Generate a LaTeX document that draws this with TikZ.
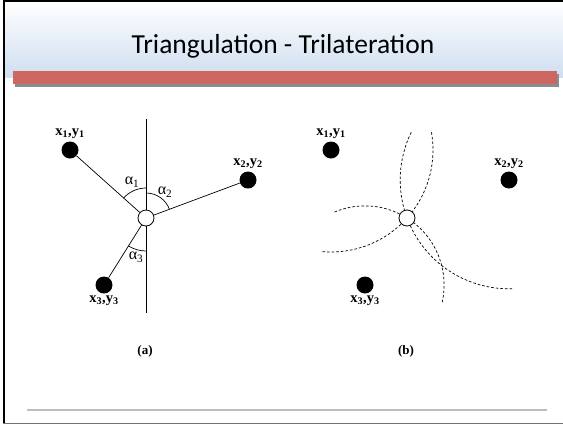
\documentclass[tikz,border=0pt]{standalone}
\usepackage{fontspec}
\setmainfont{Liberation Serif}
\newfontfamily\titlefont{Carlito}
\usetikzlibrary{calc,positioning}
\definecolor{headblue}{RGB}{207,222,240}
\definecolor{barred}{RGB}{205,102,96}
\definecolor{footgray}{RGB}{190,190,190}
\begin{document}
\begin{tikzpicture}[x=1pt,y=-1pt,
  dot/.style={circle,fill=black,minimum size=17pt,inner sep=0pt},
  hole/.style={circle,draw=black,fill=white,line width=0.8pt,minimum size=16pt,inner sep=0pt},
  link/.style={line width=0.7pt},
  ring/.style={line width=0.7pt,dash pattern=on 2.6pt off 2pt},
  clab/.style={font=\fontsize{14.5}{16}\selectfont\bfseries,inner sep=0pt},
  alab/.style={font=\fontsize{16}{18}\selectfont,inner sep=0pt},
  caplab/.style={font=\fontsize{13}{15}\selectfont\bfseries,inner sep=0pt}]
\useasboundingbox (0,0) rectangle (563,424);
% slide background
\fill[white] (0,0) rectangle (563,424);
\fill[top color=white,bottom color=headblue] (5,2) rectangle (563,77);
\fill[black!45] (15,74) rectangle (559,87);
\fill[barred] (13,71) rectangle (557,84);
\draw[black,line width=1.5pt] (3,1.2) -- (563,1.2);
\draw[black,line width=2pt] (4,0) -- (4,424);
\draw[black!55,line width=1.2pt] (3,423.4) -- (563,423.4);
\draw[footgray,line width=2pt] (27,410) -- (547,410);
\node[font=\titlefont\fontsize{27.5}{32}\selectfont,anchor=base,inner sep=0pt] (title) at (283,53) {Triangulation - Trilateration};
% (a) triangulation
\node[dot] (a1) at (70,150) {};
\node[dot] (a2) at (248,180) {};
\node[dot] (a3) at (104,285) {};
\node[hole] (a0) at (146,218) {};
\coordinate (atop) at (146,119);
\coordinate (abot) at (146,313);
\draw[link] (atop) -- (a0.north);
\draw[link] (a0.south) -- (abot);
\draw[link] (a1) -- (a0);
\draw[link] (a2) -- (a0);
\draw[link] (a3) -- (a0);
\draw[link] ($(a0)+(90:30pt)$) arc[start angle=90,end angle=138.2,radius=30pt];
\draw[link] ($(a0)+(20.4:25pt)$) arc[start angle=20.4,end angle=90,radius=25pt];
\draw[link] ($(a0)+(237.9:33pt)$) arc[start angle=237.9,end angle=270,radius=33pt];
\node[alab] (al1) at (132,182) {α\textsubscript{1}};
\node[alab] (al2) at (165,192) {α\textsubscript{2}};
\node[alab] (al3) at (136,257) {α\textsubscript{3}};
\node[clab,above=2.5pt of a1] (a1l) {x\textsubscript{1},y\textsubscript{1}};
\node[clab,above=2.5pt of a2] (a2l) {x\textsubscript{2},y\textsubscript{2}};
\node[clab,below=1.5pt of a3] (a3l) {x\textsubscript{3},y\textsubscript{3}};
\node[caplab] (capa) at (145,351) {(a)};
% (b) trilateration
\node[dot] (b1) at (331,150) {};
\node[dot] (b2) at (509,180) {};
\node[dot] (b3) at (365,285) {};
\coordinate (bc) at (407,218);
\draw[ring] ($(b1)+(10:102pt)$) arc[start angle=10,end angle=-95,radius=102pt];
\draw[ring] ($(b2)+(154:108.8pt)$) arc[start angle=154,end angle=272,radius=108.8pt];
\draw[ring] ($(b3)+(112.6:79.1pt)$) arc[start angle=112.6,end angle=-14,radius=79.1pt];
\node[hole] (b0) at (bc) {};
\node[clab,above=2.5pt of b1] (b1l) {x\textsubscript{1},y\textsubscript{1}};
\node[clab,above=2.5pt of b2] (b2l) {x\textsubscript{2},y\textsubscript{2}};
\node[clab,below=1.5pt of b3] (b3l) {x\textsubscript{3},y\textsubscript{3}};
\node[caplab] (capb) at (406,351) {(b)};
\end{tikzpicture}
\end{document}
